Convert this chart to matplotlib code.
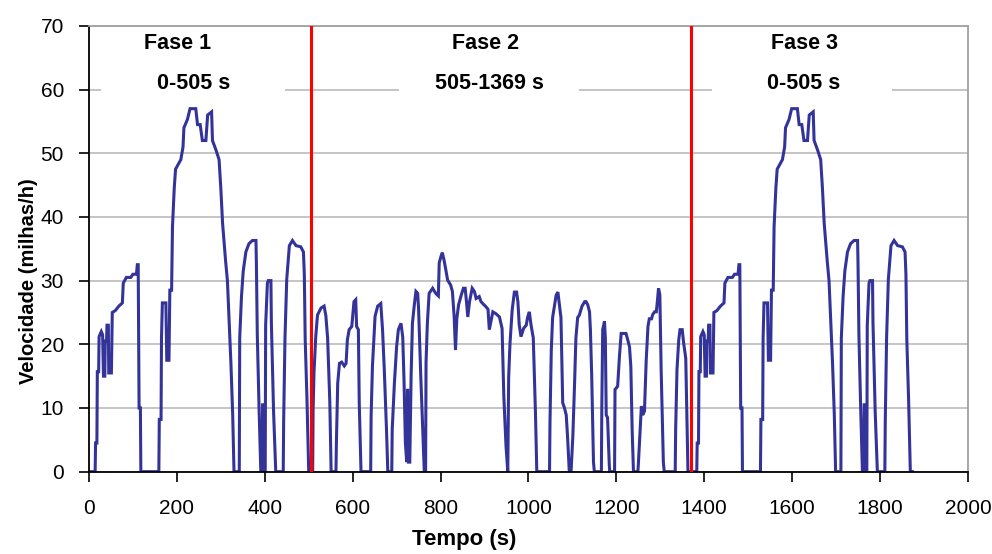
import matplotlib
matplotlib.use("Agg")
import matplotlib.pyplot as plt
from matplotlib.patches import Rectangle
import numpy as np

# ---- data ----
# Phase 1 (0-505 s): time (s), speed (mph)
phase1_t = [0, 14, 15, 18, 19, 22, 23, 28, 31, 33, 36, 37, 40, 41, 44, 45, 51, 53, 60, 68, 76, 78, 85, 95,
            100, 108, 110, 112, 114, 117, 118, 159, 160, 164, 165, 167, 175, 177, 182, 184, 188, 190, 194,
            197, 209, 214, 216, 224, 230, 243, 247, 253, 258, 266, 270, 279, 281, 289, 296, 300, 304, 311,
            315, 319, 323, 327, 330, 342, 343, 347, 351, 357, 364, 372, 380, 381, 383, 387, 391, 394, 395,
            398, 399, 401, 402, 406, 408, 414, 415, 420, 425, 442, 443, 446, 450, 456, 463, 471, 482, 488,
            490, 492, 496, 500, 505]
phase1_v = [0, 0, 4.5, 4.5, 15.7, 15.7, 21.2, 22, 21.5, 15, 15, 20.5, 20.5, 23, 23, 15.5, 15.5, 25, 25.3,
            26, 26.5, 29.6, 30.5, 30.5, 31, 31, 32.5, 32.5, 10, 10, 0, 0, 8.2, 8.2, 21, 26.5, 26.5, 17.5,
            17.5, 28.5, 28.5, 38.5, 44.5, 47.5, 49, 51, 54, 55.3, 57, 57, 54.5, 54.5, 52, 52, 56, 56.5, 52,
            50.5, 49, 44.5, 39, 33, 30, 23.5, 17, 9, 0, 0, 21, 27.5, 31.5, 34.5, 35.8, 36.3, 36.3, 32.5,
            21.5, 10, 0, 0, 10.5, 10.5, 0, 0, 23, 29.6, 30, 30, 23.5, 9.5, 0, 0, 8, 21, 30.2, 35.5, 36.3,
            35.5, 35.3, 34.5, 31, 20.8, 11.5, 0, 0]

# Phase 2 (505-1369 s)
phase2_t = [509, 510, 512, 516, 520, 528, 535, 539, 543, 548, 551, 562, 563, 566, 570, 575, 581, 585, 588,
            592, 598, 603, 607, 609, 613, 615, 619, 641, 642, 645, 651, 657, 664, 668, 672, 677, 680, 689,
            690, 695, 700, 704, 710, 714, 717, 720, 723, 725, 727, 730, 733, 736, 740, 744, 748, 750, 755,
            759, 763, 766, 767, 770, 774, 782, 789, 795, 797, 801, 804, 808, 812, 816, 823, 827, 831, 834,
            837, 841, 847, 852, 856, 859, 862, 866, 872, 877, 881, 888, 892, 896, 902, 908, 911, 915, 919,
            926, 934, 940, 944, 949, 953, 955, 958, 963, 968, 973, 976, 979, 983, 989, 995, 998, 1002,
            1006, 1011, 1016, 1019, 1048, 1049, 1052, 1055, 1059, 1063, 1067, 1070, 1074, 1078, 1082,
            1086, 1089, 1093, 1097, 1101, 1105, 1108, 1112, 1116, 1118, 1122, 1128, 1131, 1135, 1139,
            1141, 1144, 1148, 1150, 1166, 1167, 1169, 1173, 1175, 1177, 1180, 1184, 1185, 1196, 1197,
            1203, 1207, 1211, 1222, 1226, 1230, 1233, 1236, 1239, 1249, 1250, 1253, 1257, 1260, 1264,
            1268, 1272, 1275, 1280, 1283, 1287, 1291, 1294, 1296, 1299, 1302, 1307, 1309, 1334, 1335,
            1338, 1342, 1345, 1350, 1353, 1358, 1361, 1363, 1369]
phase2_v = [0, 9.7, 15.5, 21.2, 24.6, 25.7, 26, 24.5, 21, 11, 0, 0, 4.5, 13.9, 17, 17.2, 16.6, 17, 20.7,
            22.3, 22.8, 26.7, 27, 22.8, 22.3, 10.8, 0, 0, 8.7, 16.5, 24.4, 26, 26.4, 22.3, 16, 6.6, 0, 0,
            6.6, 13.9, 19.6, 22.3, 23.3, 21.1, 14, 4.5, 1.5, 13, 1.5, 1.5, 15, 23.3, 26, 28.3, 28, 25.6,
            15, 7.6, 0, 0, 17.2, 23.3, 28, 28.8, 28, 27.6, 32.8, 33.8, 34.4, 33.2, 31.7, 30.1, 29.3, 28.3,
            24.3, 19.1, 24, 26.2, 27.7, 28.8, 28.8, 26.7, 24.3, 26.7, 28.8, 28.3, 27.2, 27.5, 26.7, 26.4,
            26, 25.5, 22.3, 23.7, 25.1, 24.8, 24.3, 22.5, 11.8, 4, 0, 14.8, 20.1, 25.4, 28.2, 28.2, 26.7,
            23.1, 21.2, 22.5, 23, 24.2, 25.1, 23, 21, 9.2, 0, 0, 7.6, 19.1, 24.2, 26, 27.7, 28.2, 26.5,
            24.2, 10.8, 10, 8.9, 5.5, 0, 0, 5.5, 13.9, 21, 24.2, 24.6, 25.1, 26, 26.7, 26.7, 26.2, 25.1,
            22.3, 15, 1.5, 0, 0, 10.3, 22.3, 23.6, 21, 8.9, 8.5, 1, 0, 0, 12.9, 13.4, 18, 21.7, 21.7,
            20.7, 19.6, 16.5, 6.6, 0, 0, 1, 5, 10.3, 8.9, 9.5, 17.5, 22.8, 24, 24, 24.7, 25.1, 25.1, 27.2,
            28.8, 27.8, 16, 1.5, 0, 0, 6.6, 16, 20.7, 22.3, 22.3, 20.3, 17.8, 6.6, 0, 0]

# Phase 3 repeats the phase 1 cycle (labelled 0-505 s), starting at 1369 s
phase3_start = 1369

phase_bounds = [505, 1369]
phase_titles = ["Fase 1", "Fase 2", "Fase 3"]
phase_ranges = ["0-505 s", "505-1369 s", "0-505 s"]

x_ticks = list(range(0, 2001, 200))
y_ticks = list(range(0, 71, 10))

# ---- figure ----
plt.rcParams['font.family'] = ['Liberation Sans', 'DejaVu Sans']

fig = plt.figure(figsize=(9.92, 5.54), dpi=100)
ax = fig.add_axes([0.0897, 0.1486, 0.886, 0.8047])

t_all = np.concatenate([phase1_t, phase2_t, np.array(phase1_t[1:]) + phase3_start])
v_all = np.concatenate([phase1_v, phase2_v, phase1_v[1:]])

ax.set_axisbelow(True)
ax.yaxis.grid(True, color='#c0c0c0', linewidth=1.3)

# white label boxes that interrupt the gridline at 60
box_spans = [(27, 446), (705, 1115), (1417, 1827)]
for x0, x1 in box_spans:
    ax.add_patch(Rectangle((x0, 58.2), x1 - x0, 11.2, facecolor='white', edgecolor='none', zorder=1))

ax.plot(t_all, v_all, color='#333399', linewidth=2.2, zorder=2, solid_joinstyle='miter')

for b in phase_bounds:
    ax.axvline(b, color='#ff0000', linewidth=2.2, zorder=3)

title_x = [202, 902, 1629]
range_x = [239, 912, 1627]
for tx, rx, tt, rr in zip(title_x, range_x, phase_titles, phase_ranges):
    ax.text(tx, 67.3, tt, ha='center', va='center', fontsize=15.5, fontweight='bold', zorder=4)
    ax.text(rx, 61.0, rr, ha='center', va='center', fontsize=15.5, fontweight='bold', zorder=4)

ax.set_xlim(0, 2000)
ax.set_ylim(0, 70)
ax.set_xticks(x_ticks)
ax.set_yticks(y_ticks)
ax.tick_params(axis='both', direction='out', length=7, width=1.2, colors='black', labelsize=15)
ax.tick_params(axis='x', pad=13)
ax.tick_params(axis='y', pad=11)

for s in ['left', 'bottom']:
    ax.spines[s].set_color('black')
    ax.spines[s].set_linewidth(1.3)
for s in ['top', 'right']:
    ax.spines[s].set_color('#a0a0a0')
    ax.spines[s].set_linewidth(1.3)

ax.set_xlabel('Tempo (s)', fontsize=16, fontweight='bold')
ax.xaxis.set_label_coords(0.4266, -0.128)
ax.set_ylabel('Velocidade (milhas/h)', fontsize=14.5, fontweight='bold')
ax.yaxis.set_label_coords(-0.058, 0.428)

fig.savefig('out.png', dpi=100)
